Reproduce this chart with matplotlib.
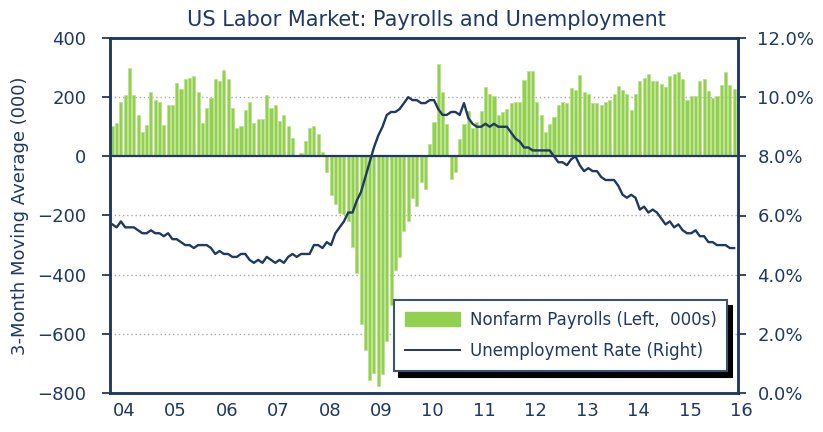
import numpy as np
import matplotlib
matplotlib.use("Agg")
import matplotlib.pyplot as plt
from matplotlib.lines import Line2D
from matplotlib.patches import Patch

NAVY = "#1f3864"
GREEN = "#92d050"

# monthly data, Jan 2004 .. Feb 2016
payrolls = [
    102, 114, 184, 209, 297, 209, 139, 82, 107, 216, 190, 184,      # 2004
    107, 172, 172, 247, 228, 260, 266, 272, 216, 114, 165, 197,     # 2005
    260, 253, 292, 260, 165, 95, 102, 158, 184, 114, 127, 127,      # 2006
    209, 165, 172, 121, 139, 102, 63, 6, 12, 51, 95, 102,           # 2007
    77, 14, -54, -130, -162, -193, -195, -220, -307, -396, -567, -653,   # 2008
    -757, -732, -775, -737, -624, -504, -383, -339, -254, -219, -140, -167,  # 2009
    -87, -111, 43, 116, 312, 218, 108, -78, -52, 58, 108, 153,      # 2010
    96, 116, 153, 235, 212, 204, 141, 149, 160, 180, 185, 185,      # 2011
    257, 287, 287, 185, 141, 83, 109, 134, 174, 185, 180, 231,      # 2012
    224, 276, 217, 211, 180, 180, 174, 185, 192, 211, 237, 224,     # 2013
    210, 158, 210, 253, 265, 279, 253, 253, 246, 235, 273, 279,     # 2014
    284, 260, 190, 203, 203, 253, 260, 221, 198, 203, 242, 284,     # 2015
    242, 228,                                                       # 2016
]

unemployment = [
    5.7, 5.6, 5.8, 5.6, 5.6, 5.6, 5.5, 5.4, 5.4, 5.5, 5.4, 5.4,
    5.3, 5.4, 5.2, 5.2, 5.1, 5.0, 5.0, 4.9, 5.0, 5.0, 5.0, 4.9,
    4.7, 4.8, 4.7, 4.7, 4.6, 4.6, 4.7, 4.7, 4.5, 4.4, 4.5, 4.4,
    4.6, 4.5, 4.4, 4.5, 4.4, 4.6, 4.7, 4.6, 4.7, 4.7, 4.7, 5.0,
    5.0, 4.9, 5.1, 5.0, 5.4, 5.6, 5.8, 6.1, 6.1, 6.5, 6.8, 7.3,
    7.8, 8.3, 8.7, 9.0, 9.4, 9.5, 9.5, 9.6, 9.8, 10.0, 9.9, 9.9,
    9.8, 9.8, 9.9, 9.9, 9.6, 9.4, 9.4, 9.5, 9.5, 9.4, 9.8, 9.3,
    9.1, 9.0, 9.0, 9.1, 9.0, 9.1, 9.0, 9.0, 9.0, 8.8, 8.6, 8.5,
    8.3, 8.3, 8.2, 8.2, 8.2, 8.2, 8.2, 8.0, 7.8, 7.8, 7.7, 7.9,
    8.0, 7.7, 7.5, 7.6, 7.5, 7.5, 7.3, 7.2, 7.2, 7.2, 7.0, 6.7,
    6.6, 6.7, 6.6, 6.2, 6.3, 6.1, 6.2, 6.1, 5.9, 5.7, 5.8, 5.6,
    5.7, 5.5, 5.4, 5.4, 5.5, 5.3, 5.3, 5.1, 5.1, 5.0, 5.0, 5.0,
    4.9, 4.9,
]

year_labels = ["04", "05", "06", "07", "08", "09", "10", "11", "12", "13", "14", "15", "16"]

months = np.arange(len(payrolls))

fig = plt.figure(figsize=(8.23, 4.32), dpi=100)
ax = fig.add_axes([110 / 823, 39 / 432, 628 / 823, 355 / 432])
ax2 = ax.twinx()

ax.bar(months, payrolls, width=0.72, color=GREEN, edgecolor="#b8e08a", linewidth=0.5, zorder=2)
ax.axhline(0, color=NAVY, lw=1.6, zorder=3)
ax2.plot(months, unemployment, color=NAVY, lw=1.7)

ax.set_xlim(-0.55, 145.9)
ax.set_ylim(-800, 400)
ax2.set_ylim(0, 12)
ax.set_xticks([])
ax.set_yticks(range(-800, 401, 200))
ax2.set_yticks(range(0, 13, 2))
ax2.set_yticklabels(["%.1f%%" % v for v in range(0, 13, 2)])

ax.grid(axis="y", ls=(0, (1, 2)), color="#a8a8a8", lw=1)
ax.set_axisbelow(True)

for a in (ax, ax2):
    for s in a.spines.values():
        s.set_color(NAVY)
        s.set_linewidth(1.8)
ax.tick_params(axis="y", direction="out", length=6, width=1.3, color=NAVY,
               labelcolor=NAVY, labelsize=13, pad=11)
ax2.tick_params(axis="y", direction="out", length=6, width=1.3, color=NAVY,
                labelcolor=NAVY, labelsize=13, pad=8)

# year labels sit a bit right of each January
for i, lab in enumerate(year_labels):
    ax.text(2.7 + 12 * i, -0.05, lab, transform=ax.get_xaxis_transform(),
            ha="center", va="center", fontsize=13, color=NAVY, clip_on=False)

fig.text(0.518, 0.953, "US Labor Market: Payrolls and Unemployment",
         ha="center", va="center", fontsize=15, color=NAVY)
fig.text(0.024, 0.5, "3-Month Moving Average (000)", rotation=90,
         ha="center", va="center", fontsize=13, color=NAVY)

handles = [Patch(facecolor=GREEN, edgecolor=GREEN),
           Line2D([], [], color=NAVY, lw=1.4)]
leg = ax2.legend(handles, ["Nonfarm Payrolls (Left,  000s)", "Unemployment Rate (Right)"],
                 loc="upper left", bbox_to_anchor=(0.452, 0.262), borderaxespad=0,
                 fontsize=12, handlelength=3.3, handleheight=0.9, handletextpad=0.6,
                 labelspacing=0.8, borderpad=0.65, fancybox=False, labelcolor=NAVY,
                 shadow={"ox": 3.5, "oy": -4, "facecolor": "black", "edgecolor": "black", "alpha": 1})
leg.get_frame().set_edgecolor("#3d5470")
leg.get_frame().set_linewidth(1.5)
leg.get_frame().set_alpha(1)

fig.savefig("out.png", dpi=100)
